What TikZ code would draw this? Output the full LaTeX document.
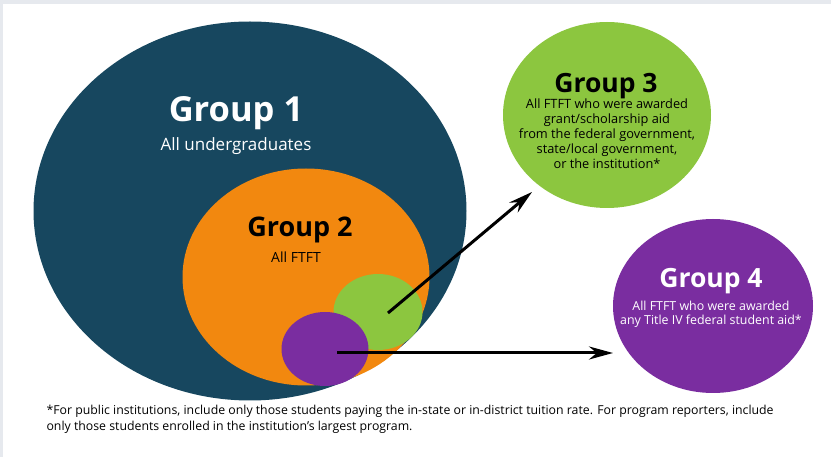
\documentclass[tikz,border=0pt]{standalone}
\usepackage{fontspec}
\setmainfont{Open Sans}
\usetikzlibrary{shapes.geometric,arrows.meta,positioning}
\definecolor{navy}{HTML}{17475F}
\definecolor{grouporange}{HTML}{F2880F}
\definecolor{groupgreen}{HTML}{8CC63F}
\definecolor{grouppurple}{HTML}{7A2DA0}
\definecolor{framegrey}{HTML}{E6E9EE}

\begin{document}
\begin{tikzpicture}[x=1pt, y=-1pt, >=Stealth,
    blob/.style={ellipse, inner sep=0pt, draw=none},
    title/.style={anchor=base, font=\bfseries\fontsize{26.5}{28}\selectfont},
    sub/.style={align=center, font=\fontsize{12.8}{15}\selectfont},
    link/.style={line width=3pt, black, arrows={-Stealth[length=24pt, width=13pt]}}]
  % frame
  \fill[framegrey] (0,0) rectangle (831,457);
  \fill[white] (3,4) rectangle (831,457);
  \useasboundingbox (0,0) rectangle (831,457);

  % circles
  \node[blob, fill=navy, minimum width=433pt, minimum height=379pt] (g1) at (250,211) {};
  \node[blob, fill=grouporange, minimum width=247pt, minimum height=217pt] (g2) at (306,277) {};
  \node[blob, fill=groupgreen, minimum width=89pt, minimum height=76pt] (g3s) at (378,312) {};
  \node[blob, fill=grouppurple, minimum width=87pt, minimum height=74pt] (g4s) at (325,349) {};
  \node[blob, fill=groupgreen, minimum width=208pt, minimum height=186pt] (g3) at (607,115) {};
  \node[blob, fill=grouppurple, minimum width=200pt, minimum height=174pt] (g4) at (713,306) {};

  % texts
  \node[title, white, font=\bfseries\fontsize{34.5}{36}\selectfont] (t1) at (236,122) {Group 1};
  \node[anchor=base, white, font=\fontsize{17}{19}\selectfont] (s1) at (236,151) {All undergraduates};
  \node[title, font=\bfseries\fontsize{27}{29}\selectfont] (t2) at (300,237) {Group 2};
  \node[anchor=base, font=\fontsize{14}{16}\selectfont] (s2) at (296,263) {All FTFT};
  \node[title] (t3) at (606,93) {Group 3};
  \node[sub, anchor=north] (s3) at (607,95) {All FTFT who were awarded\\grant/scholarship aid\\from the federal government,\\state/local government,\\or the institution*};
  \node[title, white] (t4) at (711,288) {Group 4};
  \node[sub, white, anchor=north, font=\fontsize{12.4}{14}\selectfont] (s4) at (711,298) {All FTFT who were awarded\\any Title IV federal student aid*};

  % arrows
  \coordinate (a3) at (388,313);
  \coordinate (e3) at (532,192);
  \coordinate (a4) at (337,353);
  \coordinate (e4) at (613,353);
  \draw[link] (a3) -- (e3);
  \draw[link] (a4) -- (e4);

  % footnote
  \node[anchor=base west, align=left, font=\fontsize{12.3}{17}\selectfont] (note) at (43,431)
    {*For public institutions, include only those students paying the in-state or in-district tuition rate. For program reporters, include\\only those students enrolled in the institution's largest program.};
\end{tikzpicture}
\end{document}
